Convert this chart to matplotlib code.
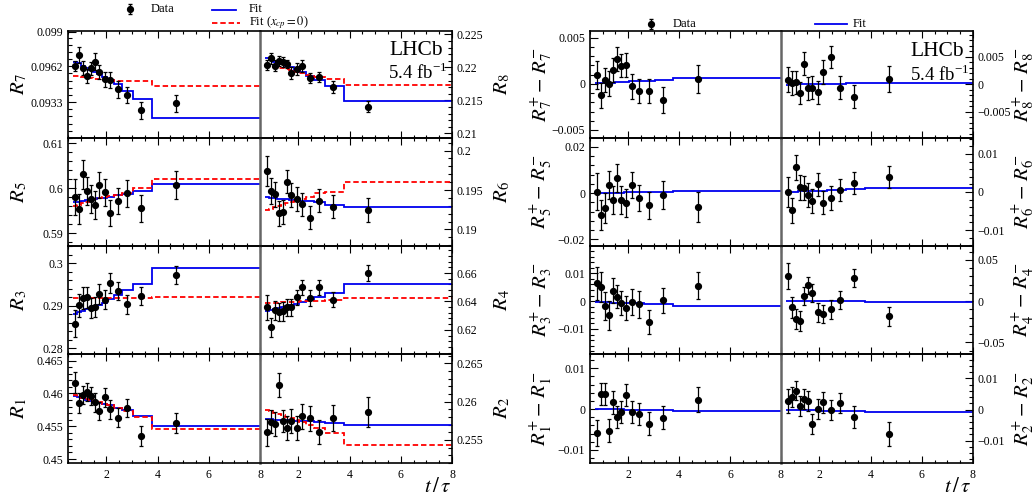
import matplotlib
matplotlib.use("Agg")
import matplotlib.pyplot as plt
from matplotlib.ticker import FixedLocator, AutoMinorLocator

plt.rcParams['font.family'] = ['Liberation Serif', 'DejaVu Serif']
plt.rcParams['mathtext.fontset'] = 'stix'

# ---------------- data ----------------
bin_edges = [0.7, 0.85, 1.02, 1.18, 1.32, 1.47, 1.64, 1.83, 2.04, 2.29, 2.61, 3.05, 3.77, 8.0]
t_mean = [0.776, 0.93, 1.10, 1.26, 1.39, 1.56, 1.73, 1.93, 2.15, 2.44, 2.80, 3.36, 4.73]

R7 = [0.09622, 0.09712, 0.09604, 0.09541, 0.09604, 0.09657, 0.09576, 0.09514, 0.09509, 0.09433, 0.09387, 0.09265, 0.09320]
R7_err = [0.00043, 0.00065, 0.00057, 0.00060, 0.00054, 0.00068, 0.00057, 0.00062, 0.00068, 0.00068, 0.00065, 0.00070, 0.00070]
R7_fit = [0.096576, 0.096441, 0.096251, 0.096062, 0.095900, 0.095737, 0.095575, 0.095358, 0.095088, 0.094763, 0.094221, 0.093545, 0.092056]
R7_fit0 = [0.09541, 0.09539, 0.09533, 0.09528, 0.09525, 0.09520, 0.09514, 0.09509, 0.09506, 0.09503, 0.09501, 0.09498, 0.09460]

R8 = [0.22034, 0.22134, 0.22024, 0.22099, 0.22074, 0.22049, 0.21915, 0.21975, 0.22024, 0.21840, 0.21850, 0.21701, 0.21403]
R8_err = [0.00080, 0.00090, 0.00080, 0.00075, 0.00075, 0.00065, 0.00085, 0.00085, 0.00090, 0.00075, 0.00075, 0.00085, 0.00085]
R8_fit = [0.22134, 0.22109, 0.22084, 0.22064, 0.22044, 0.22024, 0.21999, 0.21965, 0.21925, 0.21875, 0.21810, 0.21711, 0.21487]
R8_fit0 = [0.22024, 0.22014, 0.22004, 0.21994, 0.21985, 0.21975, 0.21960, 0.21935, 0.21915, 0.21885, 0.21850, 0.21825, 0.21726]

R5 = [0.59814, 0.59540, 0.60310, 0.59940, 0.59755, 0.59622, 0.60073, 0.59910, 0.59444, 0.59725, 0.59888, 0.59555, 0.60073]
R5_err = [0.0040, 0.0033, 0.0032, 0.0031, 0.0031, 0.0031, 0.0029, 0.0030, 0.0029, 0.0029, 0.0030, 0.0030, 0.0031]
R5_fit = [0.59688, 0.59703, 0.59718, 0.59733, 0.59747, 0.59762, 0.59777, 0.59792, 0.59814, 0.59844, 0.59881, 0.59947, 0.60096]
R5_fit0 = [0.59607, 0.59636, 0.59666, 0.59696, 0.59725, 0.59755, 0.59777, 0.59799, 0.59822, 0.59851, 0.59888, 0.60000, 0.60199]

R6 = [0.19742, 0.19492, 0.19445, 0.19203, 0.19220, 0.19606, 0.19432, 0.19386, 0.19320, 0.19148, 0.19364, 0.19288, 0.19246]
R6_err = [0.00195, 0.00163, 0.00159, 0.00155, 0.00153, 0.00148, 0.00153, 0.00148, 0.00148, 0.00148, 0.00148, 0.00148, 0.00148]
R6_fit = [0.19407, 0.19398, 0.19394, 0.19390, 0.19386, 0.19381, 0.19377, 0.19373, 0.19364, 0.19356, 0.19343, 0.19313, 0.19280]
R6_fit0 = [0.19246, 0.19263, 0.19280, 0.19297, 0.19313, 0.19330, 0.19347, 0.19364, 0.19386, 0.19415, 0.19458, 0.19479, 0.19598]

R3 = [0.28585, 0.29016, 0.29189, 0.29205, 0.28954, 0.28977, 0.29291, 0.29150, 0.29550, 0.29346, 0.29040, 0.29236, 0.29722]
R3_err = [0.00314, 0.00275, 0.00255, 0.00247, 0.00243, 0.00235, 0.00235, 0.00224, 0.00235, 0.00216, 0.00224, 0.00216, 0.00216]
R3_fit = [0.28820, 0.28852, 0.28883, 0.28922, 0.28954, 0.28993, 0.29032, 0.29079, 0.29173, 0.29252, 0.29369, 0.29511, 0.29895]
R3_fit0 = [0.29197, 0.29197, 0.29197, 0.29197, 0.29197, 0.29197, 0.29197, 0.29197, 0.29197, 0.29197, 0.29197, 0.29197, 0.29200]

R4 = [0.63579, 0.62167, 0.63367, 0.63250, 0.63296, 0.63579, 0.63579, 0.64285, 0.64990, 0.64238, 0.64990, 0.64120, 0.66003]
R4_err = [0.0086, 0.0065, 0.0065, 0.0065, 0.0064, 0.0061, 0.0060, 0.0055, 0.0053, 0.0055, 0.0053, 0.0054, 0.0059]
R4_fit = [0.63343, 0.63391, 0.63461, 0.63532, 0.63603, 0.63673, 0.63744, 0.63838, 0.63956, 0.64097, 0.64285, 0.64567, 0.65250]
R4_fit0 = [0.63885, 0.63885, 0.63908, 0.63908, 0.63932, 0.63932, 0.63956, 0.63979, 0.64000, 0.64026, 0.64049, 0.64073, 0.64238]

R1 = [0.46163, 0.45847, 0.45974, 0.46025, 0.45959, 0.45862, 0.45729, 0.45938, 0.45755, 0.45627, 0.45780, 0.45352, 0.45556]
R1_err = [0.00158, 0.00153, 0.00138, 0.00140, 0.00140, 0.00145, 0.00140, 0.00145, 0.00140, 0.00145, 0.00133, 0.00150, 0.00153]
R1_fit = [0.45964, 0.45943, 0.45923, 0.45903, 0.45887, 0.45872, 0.45857, 0.45836, 0.45816, 0.45785, 0.45745, 0.45663, 0.45510]
R1_fit0 = [0.45969, 0.45948, 0.45928, 0.45908, 0.45893, 0.45877, 0.45862, 0.45841, 0.45816, 0.45780, 0.45729, 0.45633, 0.45459]

R2 = [0.25600, 0.25739, 0.25708, 0.26218, 0.25748, 0.25656, 0.25748, 0.25656, 0.25808, 0.25782, 0.25600, 0.25782, 0.25865]
R2_err = [0.00174, 0.00152, 0.00152, 0.00157, 0.00146, 0.00152, 0.00152, 0.00152, 0.00163, 0.00159, 0.00157, 0.00168, 0.00191]
R2_fit = [0.25774, 0.25769, 0.25765, 0.25761, 0.25761, 0.25756, 0.25756, 0.25752, 0.25748, 0.25743, 0.25739, 0.25726, 0.25700]
R2_fit0 = [0.25891, 0.25874, 0.25856, 0.25839, 0.25822, 0.25804, 0.25782, 0.25761, 0.25735, 0.25700, 0.25656, 0.25595, 0.25434]

D7 = [0.00097, -0.00126, 0.00043, 0.0, 0.00151, 0.00274, 0.00198, 0.00206, -0.00029, -0.00076, -0.00076, -0.00173, 0.00051]
D7_err = [0.00155, 0.00135, 0.00132, 0.00135, 0.00132, 0.00130, 0.00126, 0.00130, 0.00132, 0.00130, 0.00133, 0.00141, 0.00153]
D7_fit = [0.00007, 0.00011, 0.00011, 0.00014, 0.00014, 0.00018, 0.00018, 0.00022, 0.00025, 0.00029, 0.00032, 0.00043, 0.00065]

D8 = [0.00085, 0.00024, 0.00036, -0.00158, 0.00376, -0.00073, -0.00061, -0.00145, 0.00224, 0.00497, -0.00061, -0.00230, 0.00097]
D8_err = [0.00227, 0.00221, 0.00212, 0.00203, 0.00206, 0.00206, 0.00209, 0.00212, 0.00212, 0.00203, 0.00209, 0.00212, 0.00233]
D8_fit = [-0.00006, -0.00006, 0.0, 0.0, 0.0, 0.00006, 0.00006, 0.00006, 0.00006, 0.00012, 0.00012, 0.00018, 0.00024]

D5 = [0.00056, -0.00952, -0.00664, 0.00359, -0.00289, 0.00647, -0.00289, -0.00433, 0.00344, -0.00217, -0.00534, -0.00073, -0.00606]
D5_err = [0.00792, 0.00655, 0.00648, 0.00612, 0.00612, 0.00612, 0.00598, 0.00598, 0.00562, 0.00576, 0.00590, 0.00612, 0.00648]
D5_fit = [-0.00001, -0.00001, -0.00001, 0.00013, 0.00013, 0.00013, 0.00013, 0.00027, 0.00027, 0.00027, 0.00042, 0.00042, 0.00070]

D6 = [0.00008, -0.00483, 0.00648, 0.00131, 0.00096, -0.00080, -0.00247, 0.00201, -0.00282, -0.00159, 0.00061, 0.00236, 0.00394]
D6_err = [0.00395, 0.00329, 0.00329, 0.00329, 0.00316, 0.00307, 0.00316, 0.00298, 0.00307, 0.00307, 0.00290, 0.00290, 0.00298]
D6_fit = [-0.00001, 0.00008, 0.00008, 0.00017, 0.00017, 0.00026, 0.00026, 0.00034, 0.00034, 0.00043, 0.00061, 0.00078, 0.00113]

D3 = [0.00636, 0.00504, -0.00168, -0.00504, 0.00372, 0.00156, -0.00084, -0.00240, -0.00024, -0.00120, -0.00743, 0.00024, 0.00552]
D3_err = [0.00582, 0.00552, 0.00510, 0.00522, 0.00450, 0.00420, 0.00432, 0.00438, 0.00468, 0.00480, 0.00438, 0.00462, 0.00480]
D3_fit = [-0.00036, -0.00036, -0.00048, -0.00048, -0.00060, -0.00060, -0.00072, -0.00072, -0.00084, -0.00084, -0.00096, -0.00108, -0.00168]

D4 = [0.03034, -0.00768, -0.02184, -0.02427, 0.00607, 0.01902, 0.00931, -0.01375, -0.01578, -0.01011, 0.00121, 0.02831, -0.01820]
D4_err = [0.01578, 0.01315, 0.01254, 0.01214, 0.01112, 0.01072, 0.01092, 0.01153, 0.01072, 0.01112, 0.01112, 0.01052, 0.01153]
D4_fit = [0.0004, 0.0004, 0.0004, 0.0, 0.0, 0.0, 0.0, 0.0, -0.0004, -0.0004, -0.0004, -0.0004, -0.00121]

D1 = [-0.00586, 0.00365, 0.00365, -0.00530, 0.00170, -0.00188, -0.00066, 0.00349, -0.00066, -0.00123, -0.00359, -0.00212, 0.00235]
D1_err = [0.00317, 0.00264, 0.00264, 0.00277, 0.00285, 0.00264, 0.00264, 0.00272, 0.00272, 0.00277, 0.00277, 0.00285, 0.00317]
D1_fit = [-0.00001, -0.00001, -0.00001, -0.00009, -0.00009, -0.00009, -0.00009, -0.00017, -0.00017, -0.00017, -0.00025, -0.00025, -0.00041]

D2 = [0.00272, 0.00401, 0.00604, 0.00123, 0.00326, 0.00272, -0.00465, 0.00005, 0.00240, -0.00016, 0.00219, -0.00240, -0.00775]
D2_err = [0.00374, 0.00321, 0.00305, 0.00321, 0.00321, 0.00321, 0.00315, 0.00321, 0.00337, 0.00331, 0.00326, 0.00337, 0.00390]
D2_fit = [-0.00005, -0.00005, -0.00016, -0.00016, -0.00016, -0.00027, -0.00027, -0.00027, -0.00037, -0.00037, -0.00048, -0.00059, -0.00080]

# ---------------- layout / style ----------------
W, H = 1035, 499
fig = plt.figure(figsize=(W / 100, H / 100), dpi=100)
BLUE = '#0000ee'
RED = '#ff0000'
ROWS = [31, 138, 246, 354, 463]
COLS_A = [(68, 260), (260, 452)]
COLS_B = [(590, 781), (781, 973)]
M = '\u2212'


def R(n):
    return r'$\mathit{R}_{\mathit{%d}}$' % n


def D(n):
    return r'$\mathit{R}^{+}_{\mathit{%d}}-\,\mathit{R}^{-}_{\mathit{%d}}$' % (n, n)


def ticks3(v, s):
    return ([-v, 0, v], [M + s, '0', s])


grid_A = [
    [dict(y=R7, e=R7_err, fit=R7_fit, fit0=R7_fit0, ylim=(0.0904, 0.09905),
          t=([0.0933, 0.0962, 0.099], ['0.0933', '0.0962', '0.099']), lab=R(7)),
     dict(y=R8, e=R8_err, fit=R8_fit, fit0=R8_fit0, ylim=(0.2093, 0.2255),
          t=([0.21, 0.215, 0.22, 0.225], ['0.21', '0.215', '0.22', '0.225']), lab=R(8))],
    [dict(y=R5, e=R5_err, fit=R5_fit, fit0=R5_fit0, ylim=(0.5872, 0.6112),
          t=([0.59, 0.60, 0.61], ['0.59', '0.6', '0.61']), lab=R(5)),
     dict(y=R6, e=R6_err, fit=R6_fit, fit0=R6_fit0, ylim=(0.1879, 0.2016),
          t=([0.19, 0.195, 0.2], ['0.19', '0.195', '0.2']), lab=R(6))],
    [dict(y=R3, e=R3_err, fit=R3_fit, fit0=R3_fit0, ylim=(0.2787, 0.3041),
          t=([0.28, 0.29, 0.30], ['0.28', '0.29', '0.3']), lab=R(3)),
     dict(y=R4, e=R4_err, fit=R4_fit, fit0=R4_fit0, ylim=(0.603, 0.679),
          t=([0.62, 0.64, 0.66], ['0.62', '0.64', '0.66']), lab=R(4))],
    [dict(y=R1, e=R1_err, fit=R1_fit, fit0=R1_fit0, ylim=(0.4494, 0.4660),
          t=([0.45, 0.455, 0.46, 0.465], ['0.45', '0.455', '0.46', '0.465']), lab=R(1)),
     dict(y=R2, e=R2_err, fit=R2_fit, fit0=R2_fit0, ylim=(0.2520, 0.2662),
          t=([0.255, 0.26, 0.265], ['0.255', '0.26', '0.265']), lab=R(2))],
]

grid_B = [
    [dict(y=D7, e=D7_err, fit=D7_fit, fit0=None, ylim=(-0.00587, 0.00572), t=ticks3(0.005, '0.005'), lab=D(7)),
     dict(y=D8, e=D8_err, fit=D8_fit, fit0=None, ylim=(-0.0098, 0.0097), t=ticks3(0.005, '0.005'), lab=D(8))],
    [dict(y=D5, e=D5_err, fit=D5_fit, fit0=None, ylim=(-0.0229, 0.0238), t=ticks3(0.02, '0.02'), lab=D(5)),
     dict(y=D6, e=D6_err, fit=D6_fit, fit0=None, ylim=(-0.0142, 0.0142), t=ticks3(0.01, '0.01'), lab=D(6))],
    [dict(y=D3, e=D3_err, fit=D3_fit, fit0=None, ylim=(-0.019, 0.0198), t=ticks3(0.01, '0.01'), lab=D(3)),
     dict(y=D4, e=D4_err, fit=D4_fit, fit0=None, ylim=(-0.0642, 0.067), t=ticks3(0.05, '0.05'), lab=D(4))],
    [dict(y=D1, e=D1_err, fit=D1_fit, fit0=None, ylim=(-0.0132, 0.0135), t=ticks3(0.01, '0.01'), lab=D(1)),
     dict(y=D2, e=D2_err, fit=D2_fit, fit0=None, ylim=(-0.01715, 0.0178), t=ticks3(0.01, '0.01'), lab=D(2))],
]


def make_ax(x0, x1, y0, y1):
    return fig.add_axes([x0 / W, 1 - y1 / H, (x1 - x0) / W, (y1 - y0) / H])


def draw_panel(ax, p, side, bottom_row):
    ax.set_xlim(0.5, 8.0)
    ax.set_ylim(*p['ylim'])
    ax.stairs(p['fit'], bin_edges, baseline=None, color=BLUE, lw=1.3, zorder=2)
    if p['fit0'] is not None:
        ax.stairs(p['fit0'], bin_edges, baseline=None, color=RED, lw=1.3,
                  linestyle=(0, (3, 1.6)), zorder=2)
    ax.errorbar(t_mean, p['y'], yerr=p['e'], fmt='o', color='black', ms=4.2,
                elinewidth=0.9, capsize=1.2, capthick=0.9, zorder=3)
    ax.set_xticks([2, 4, 6, 8], ['2', '4', '6', '8'])
    ax.xaxis.set_minor_locator(AutoMinorLocator(4))
    ax.set_yticks(p['t'][0], p['t'][1])
    ax.yaxis.set_minor_locator(AutoMinorLocator(5))
    ax.tick_params(axis='x', which='both', direction='in', top=True, bottom=True,
                   labelbottom=bottom_row, labelsize=8.5, width=0.8, pad=4)
    ax.tick_params(axis='x', which='major', length=5)
    ax.tick_params(axis='x', which='minor', length=2.5)
    if side == 'left':
        ax.tick_params(axis='y', which='both', direction='in', left=True, right=False,
                       labelleft=True, labelright=False, labelsize=8.5, width=0.8, pad=3.5)
        ax.spines['right'].set_visible(False)
        outer = 'left'
    else:
        ax.yaxis.tick_right()
        ax.tick_params(axis='y', which='both', direction='in', left=False, right=True,
                       labelleft=False, labelright=True, labelsize=8.5, width=0.8, pad=3.5)
        ax.spines['left'].set_color('#666666')
        ax.spines['left'].set_linewidth(1.8)
        outer = 'right'
    ax.tick_params(axis='y', which='major', length=6)
    ax.tick_params(axis='y', which='minor', length=3)
    for s in ('top', 'bottom', outer):
        ax.spines[s].set_color('black')
        ax.spines[s].set_linewidth(1.2)
    ax.patch.set_alpha(0)


row_centres = [(ROWS[i] + ROWS[i + 1]) / 2 for i in range(4)]

for grid, cols, lab_x in ((grid_A, COLS_A, (19, 502)), (grid_B, COLS_B, (541, 1023))):
    for r in range(4):
        for c in range(2):
            x0, x1 = cols[c]
            ax = make_ax(x0, x1, ROWS[r], ROWS[r + 1])
            draw_panel(ax, grid[r][c], 'left' if c == 0 else 'right', r == 3)
            fig.text(lab_x[c] / W, 1 - row_centres[r] / H, grid[r][c]['lab'],
                     rotation=90, ha='center', va='center', fontsize=15)

# ---------------- overlay: legends and annotations ----------------
ov = fig.add_axes([0, 0, 1, 1])
ov.set_xlim(0, W)
ov.set_ylim(H, 0)
ov.axis('off')
ov.patch.set_alpha(0)

# left figure legend
ov.errorbar([130], [8.5], yerr=[5], fmt='o', color='black', ms=4.2, elinewidth=0.9, capsize=1.2)
ov.text(151, 8.5, 'Data', ha='left', va='center', fontsize=9)
ov.plot([212, 236], [10, 10], color=BLUE, lw=1.3)
ov.text(249, 9, 'Fit', ha='left', va='center', fontsize=9)
ov.plot([212, 240], [23, 23], color=RED, lw=1.3, linestyle=(0, (3, 1.6)))
ov.text(249, 23, r'Fit ($\mathit{x}_{\mathit{cp}}\mathit{=0}$)', ha='left', va='center', fontsize=9)

# right figure legend
ov.errorbar([651], [24], yerr=[5], fmt='o', color='black', ms=4.2, elinewidth=0.9, capsize=1.2)
ov.text(673, 24, 'Data', ha='left', va='center', fontsize=9)
ov.plot([815, 847], [24, 24], color=BLUE, lw=1.3)
ov.text(853, 24, 'Fit', ha='left', va='center', fontsize=9)

# LHCb labels
ov.text(389, 50, 'LHCb', ha='left', va='center', fontsize=15.5)
ov.text(388, 73, r'5.4 fb$^{\mathregular{-1}}$', ha='left', va='center', fontsize=13.5)
ov.text(910, 51, 'LHCb', ha='left', va='center', fontsize=15.5)
ov.text(910, 75, r'5.4 fb$^{\mathregular{-1}}$', ha='left', va='center', fontsize=13.5)

# x-axis titles
ov.text(452, 488, r'$t\,/\,\tau$', ha='right', va='center', fontsize=15)
ov.text(972, 488, r'$t\,/\,\tau$', ha='right', va='center', fontsize=15)

fig.savefig('out.png', dpi=100)
